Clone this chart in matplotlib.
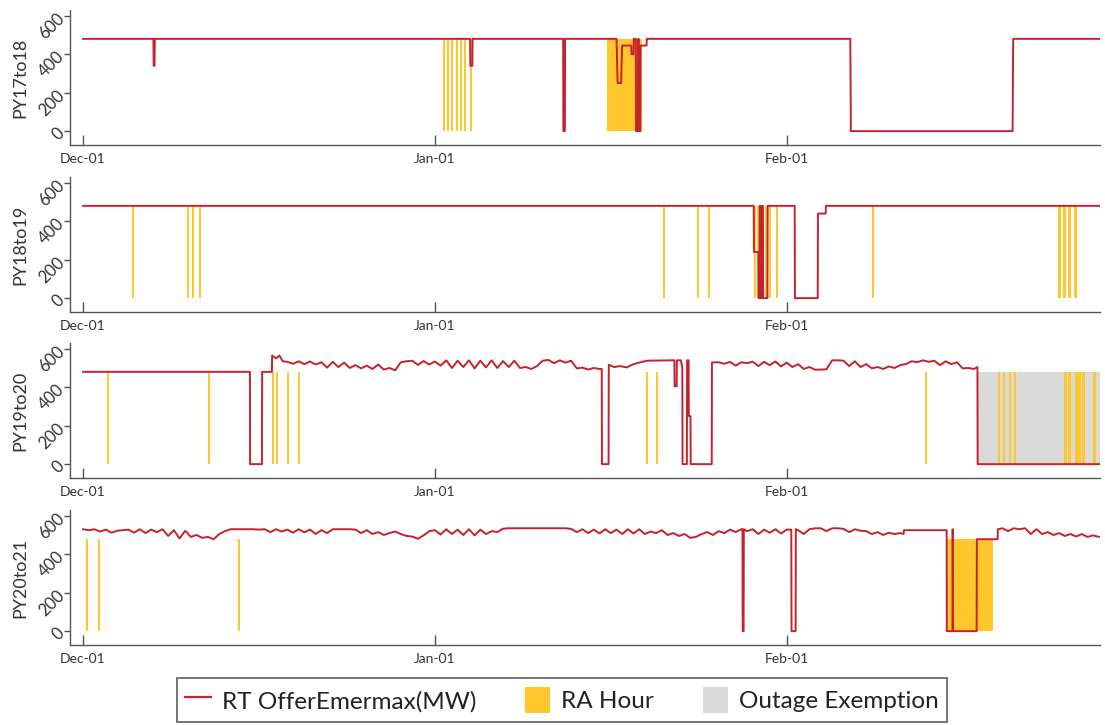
import numpy as np
import matplotlib
matplotlib.use("Agg")
import matplotlib.pyplot as plt
from matplotlib.lines import Line2D
from matplotlib.patches import Patch

plt.rcParams['font.family'] = ['Lato', 'DejaVu Sans']

# ---------------- data (x = days since Dec-01) ----------------
panel_names = ["PY17to18", "PY18to19", "PY19to20", "PY20to21"]
xtick_days = [0, 31, 62]
xtick_labels = ["Dec-01", "Jan-01", "Feb-01"]
ytick_vals = [0, 200, 400, 600]
ra_height = 480
outage_height = 480

# PY17to18 red line breakpoints
py17_t = [0, 6.2, 6.22, 6.3, 6.32, 34.1, 34.12, 34.3, 34.32, 42.3, 42.32, 42.45, 42.47,
          47.0, 47.1, 47.4, 47.5, 48.3, 48.32, 48.5, 48.52, 48.7, 48.72, 48.9, 48.92,
          48.95, 48.97, 49.1, 49.12, 49.65, 49.67, 67.6, 67.65, 81.9, 81.95, 89.6]
py17_v = [480, 480, 340, 340, 480, 480, 340, 340, 480, 480, 0, 0, 480,
          480, 250, 250, 445, 445, 400, 400, 480, 480, 0, 0, 480,
          480, 0, 0, 445, 445, 480, 480, 0, 0, 480, 480]
py17_ra_bars = [31.79, 32.15, 32.5, 32.94, 33.3, 33.64, 34.17]
py17_ra_blocks = [(46.15, 49.23)]
py17_outage = []

# PY18to19
py18_t = [0, 59.09, 59.11, 59.5, 59.52, 59.6, 59.62, 59.7, 59.72, 59.8, 59.82, 59.9, 59.92,
          60.3, 60.32, 62.7, 62.72, 64.73, 64.75, 65.43, 65.45, 89.6]
py18_v = [480, 480, 240, 240, 0, 0, 480, 480, 0, 0, 480, 480, 0,
          0, 480, 480, 0, 0, 440, 440, 480, 480]
py18_ra_bars = [4.40, 9.25, 9.69, 10.30, 51.17, 54.16, 55.13, 59.18, 59.45, 59.8,
                60.15, 60.5, 61.12, 69.57, 86.04, 86.48, 86.92, 87.45]
py18_ra_blocks = []
py18_outage = []

# PY19to20
py19_t = [0, 14.7, 14.72, 15.76, 15.78, 16.64, 16.66, 17.0, 17.3, 17.6,
          45.7, 45.72, 46.3, 46.32, 46.8, 47.3, 47.9, 48.5, 49.0, 49.7, 52.1, 52.12, 52.3,
          52.32, 52.66, 52.8, 52.82, 53.2, 53.22, 53.35, 53.37, 53.52, 53.54, 55.39, 55.41,
          78.8, 78.82, 89.6]
py19_v = [480, 480, 0, 0, 480, 480, 565, 550, 565, 535,
          495, 0, 0, 517, 505, 510, 503, 520, 528, 538, 540, 405, 405,
          540, 540, 505, 0, 0, 540, 540, 250, 250, 0, 0, 529,
          505, 0, 0]
py19_wig1_start = 18.0
py19_wig1 = [532, 522, 535, 520, 534, 518, 530, 502, 532, 505, 528, 500, 515, 498, 512, 495,
             518, 492, 500, 488, 530, 535, 538, 516, 536, 518, 534, 512, 540, 500, 538, 505,
             540, 498, 538, 503, 540, 500, 536, 505, 538, 500, 505, 495, 510, 538, 542, 525,
             540, 528, 538, 498, 502, 492, 500, 495]
py19_wig2_start = 56.0
py19_wig2 = [530, 522, 532, 512, 530, 525, 533, 510, 532, 515, 534, 508, 528, 505, 520, 495,
             505, 491, 492, 493, 540, 540, 538, 510, 535, 505, 520, 498, 505, 495, 508, 500,
             515, 520, 535, 530, 540, 532, 538, 515, 535, 520, 530, 498, 500, 495]
py19_ra_bars = [2.20, 11.10, 16.73, 17.08, 18.05, 19.02, 49.67, 50.55, 74.24, 80.67, 81.11,
                81.64, 82.08, 86.57, 86.92, 87.54, 87.80, 88.15, 89.12]
py19_ra_blocks = []
py19_outage = [(78.82, 89.6)]

# PY20to21
py20_t = [58.1, 58.12, 58.2, 58.22, 62.4, 62.42, 62.78, 62.8,
          72.3, 72.32, 76.09, 76.1, 76.6, 76.62, 76.66, 78.73, 78.75, 80.58, 80.6]
py20_v = [530, 0, 0, 530, 528, 0, 0, 530,
          505, 525, 525, 0, 0, 530, 0, 0, 478, 478, 530]
py20_wig1_start = 0.0
py20_wig1 = [530, 525, 530, 518, 528, 512, 522, 525, 528, 512, 530, 510, 528, 515, 530, 495,
             525, 482, 522, 490, 500, 485, 490, 478, 505, 520, 530, 530, 530, 530, 530, 528,
             530, 515, 530, 518, 528, 512, 530, 514, 528, 505, 525, 510, 530, 530, 530, 530,
             528, 510, 525, 505, 515, 500, 510, 518, 505, 495, 492, 480, 498, 520, 525, 502,
             530, 505, 528, 500, 530, 498, 528, 505, 520, 515, 533, 535, 535, 535, 535, 535,
             535, 535, 535, 535, 535, 535, 532, 515, 530, 510, 528, 508, 530, 510, 528, 505,
             530, 508, 530, 505, 518, 510, 525, 500, 510, 495, 505, 485, 490, 505, 515, 500,
             520, 510, 528, 515, 530]
py20_wig2_start = 58.5
py20_wig2 = [520, 530, 505, 528, 512, 530, 508, 528]
py20_wig3_start = 63.0
py20_wig3 = [525, 505, 530, 535, 535, 520, 535, 535, 532, 515, 530, 522, 520, 505, 515, 500,
             512, 505, 510]
py20_wig4_start = 81.0
py20_wig4 = [535, 520, 535, 530, 535, 505, 530, 505, 515, 500, 510, 495, 505, 492, 505, 490,
             498, 490]
py20_ra_bars = [0.35, 1.41, 13.74]
py20_ra_blocks = [(76.09, 80.14)]
py20_outage = []

legend_labels = ["RT OfferEmermax(MW)", "RA Hour", "Outage Exemption"]

# ---------------- assemble ----------------
def build(t, v, wiggles):
    tt = list(t)
    vv = list(v)
    for start, vals in wiggles:
        tt += list(start + 0.5 * np.arange(len(vals)))
        vv += list(vals)
    order = np.argsort(tt, kind="stable")
    return np.asarray(tt)[order], np.asarray(vv)[order]

panels = [
    (build(py17_t, py17_v, []), py17_ra_bars, py17_ra_blocks, py17_outage),
    (build(py18_t, py18_v, []), py18_ra_bars, py18_ra_blocks, py18_outage),
    (build(py19_t, py19_v, [(py19_wig1_start, py19_wig1), (py19_wig2_start, py19_wig2)]),
     py19_ra_bars, py19_ra_blocks, py19_outage),
    (build(py20_t, py20_v, [(py20_wig1_start, py20_wig1), (py20_wig2_start, py20_wig2),
                            (py20_wig3_start, py20_wig3), (py20_wig4_start, py20_wig4)]),
     py20_ra_bars, py20_ra_blocks, py20_outage),
]

RED = "#C4222E"
YELLOW = "#FFC72C"
GRAY = "#DADADA"
AXC = "#555555"

fig = plt.figure(figsize=(11.05, 7.25), dpi=100)
W, H = 1105.0, 725.0
bottoms_px = [145, 312, 478, 645]
for i, ((tx, vy), bars, blocks, outage) in enumerate(panels):
    b = bottoms_px[i]
    ax = fig.add_axes([70 / W, (H - b) / H, 1030 / W, 135 / H])
    for (s, e) in outage:
        ax.bar(s, outage_height, width=e - s, align="edge", color=GRAY, zorder=1, linewidth=0)
    ax.bar(bars, ra_height, width=0.2, align="center", color=YELLOW, zorder=2, linewidth=0)
    for (s, e) in blocks:
        ax.bar(s, ra_height, width=e - s, align="edge", color=YELLOW, zorder=2, linewidth=0)
    ax.plot(tx, vy, color=RED, lw=1.4, zorder=3)
    ax.set_xlim(-1.15, 89.6)
    ax.set_ylim(-72, 630)
    ax.set_xticks(xtick_days)
    ax.set_xticklabels(xtick_labels)
    ax.set_yticks(ytick_vals)
    ax.set_yticklabels([str(v) for v in ytick_vals], rotation=45, ha="right", va="center",
                       rotation_mode="anchor")
    ax.tick_params(axis="x", direction="in", length=7, width=1, colors=AXC, labelsize=10,
                   labelcolor="#333333", pad=6)
    ax.tick_params(axis="y", direction="out", length=4, width=1, colors=AXC, labelsize=12,
                   labelcolor="#333333", pad=2)
    for s in ["top", "right"]:
        ax.spines[s].set_visible(False)
    for s in ["left", "bottom"]:
        ax.spines[s].set_color(AXC)
        ax.spines[s].set_linewidth(1)
    ax.set_ylabel(panel_names[i], fontsize=13, color="#333333", labelpad=5)
    ax.patch.set_alpha(0)

handles = [Line2D([0], [0], color=RED, lw=1.6),
           Patch(facecolor=YELLOW, edgecolor="none"),
           Patch(facecolor=GRAY, edgecolor="none")]
leg = fig.legend(handles, legend_labels, loc="center", bbox_to_anchor=(562 / W, (H - 700) / H),
                 ncol=3, fontsize=17.5, frameon=True, fancybox=False, edgecolor="#333333",
                 handlelength=1.05, handleheight=1.3, columnspacing=2.0, handletextpad=0.45,
                 borderpad=0.35, borderaxespad=0)
leg.get_frame().set_linewidth(1.2)
for t in leg.get_texts():
    t.set_color("#222222")

fig.savefig("out.png", dpi=100)
